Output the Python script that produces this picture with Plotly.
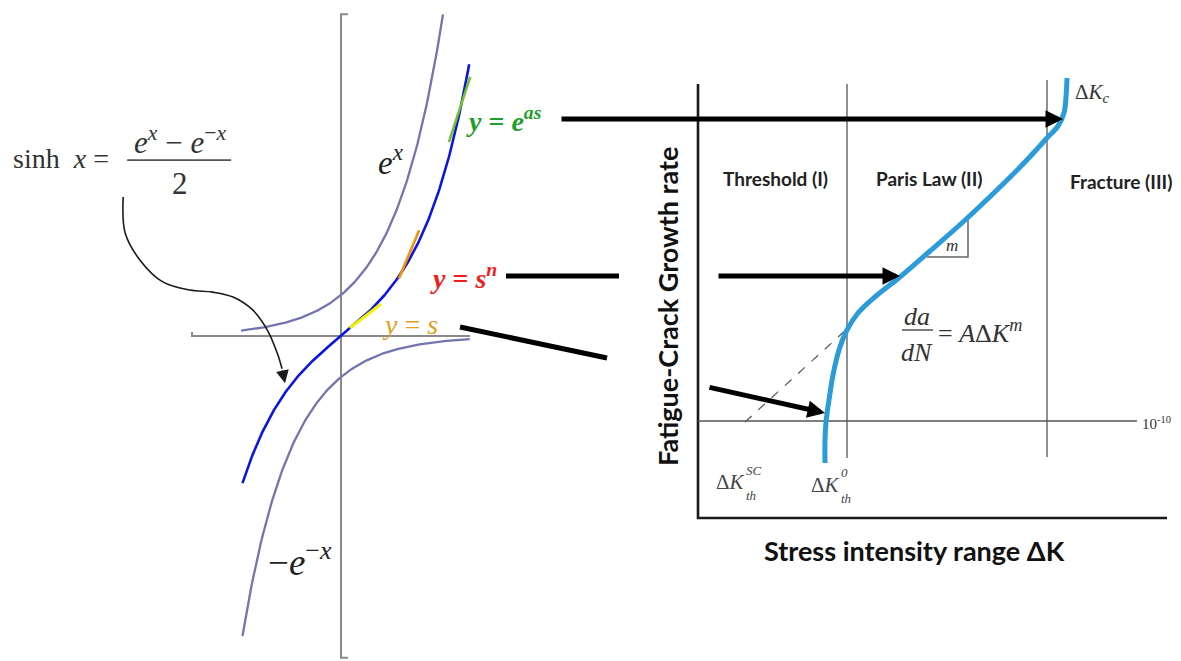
import numpy as np
import plotly.graph_objects as go

# ---------------- Left panel: hyperbolic functions (function units) ----------------
ex_x = np.linspace(-2.02, 2.06, 160)          # e^x
nex_x = np.linspace(-1.99, 2.6, 160)          # -e^-x
sinh_x = np.linspace(-1.99, 2.59, 200)        # sinh x
ex_y = np.exp(ex_x)
nex_y = -np.exp(-nex_x)
sinh_y = np.sinh(sinh_x)

green_x, green_y = [2.18, 2.61], [4.73, 6.32]     # y = e^{as} approximation
orange_x, orange_y = [1.17, 1.58], [1.40, 2.58]   # y = s^n approximation
yellow_x, yellow_y = [0.18, 0.81], [0.195, 0.78]  # y = s approximation

vaxis_x, vaxis_y = [0.14, 0, 0, 0.14], [7.85, 7.85, -7.85, -7.85]
haxis_x, haxis_y = [-3.01, -3.01, 2.61], [0.1, 0, 0]
frac_x, frac_y = [-4.32, -2.22], [4.29, 4.29]

curl_x = [-4.40, -4.36, -4.06, -3.60, -3.05, -2.59, -2.18, -1.78, -1.49, -1.29, -1.19]
curl_y = [3.39, 2.51, 1.85, 1.32, 1.12, 1.07, 0.95, 0.63, 0.15, -0.41, -0.80]
curl_tip = (-1.13, -1.15)

# ---------------- Right panel: fatigue crack growth (log dK, log da/dN) ----------------
axis_lx, axis_ly = [0, 0, 2.345], [-3.26, -11.94, -11.94]
line2_x, line2_y = [0.745, 0.745], [-3.26, -10.74]
line3_x, line3_y = [1.745, 1.745], [-3.18, -10.72]
th_x, th_y = [0, 2.195], [-10, -10]
dash_x, dash_y = [0.235, 0.75], [-10.02, -8.14]
crack_x = [0.635, 0.635, 0.64, 0.655, 0.675, 0.705, 0.745, 0.80, 0.89, 1.01,
           1.16, 1.325, 1.51, 1.635, 1.745, 1.80, 1.83, 1.84, 1.845]
crack_y = [-10.84, -10.38, -10.02, -9.58, -9.08, -8.58, -8.18, -7.84, -7.50, -7.12,
           -6.60, -6.02, -5.32, -4.82, -4.34, -4.10, -3.84, -3.52, -3.14]
tri_x, tri_y = [1.145, 1.35, 1.35], [-6.72, -6.72, -5.94]

fig = go.Figure()

def line(x, y, color, width, xa='x', ya='y', dash=None, shape='linear'):
    fig.add_trace(go.Scatter(x=x, y=y, mode='lines', xaxis=xa, yaxis=ya,
                             line=dict(color=color, width=width, dash=dash, shape=shape),
                             hoverinfo='skip', showlegend=False))

# left panel
line(vaxis_x, vaxis_y, '#8a8a8a', 2)
line(haxis_x, haxis_y, '#8a8a8a', 2)
line(ex_x, ex_y, '#7474b0', 2.3)
line(nex_x, nex_y, '#7474b0', 2.3)
line(sinh_x, sinh_y, '#0a14e6', 2.6)
line(green_x, green_y, '#72c228', 2.6)
line(orange_x, orange_y, '#f29200', 2.6)
line(yellow_x, yellow_y, '#f2f200', 3)
line(frac_x, frac_y, '#555555', 1.8)
line(curl_x, curl_y, '#1a1a1a', 1.6, shape='spline')

# right panel
line(axis_lx, axis_ly, '#1a1a1a', 2.6, 'x2', 'y2')
line(line2_x, line2_y, '#555555', 1.3, 'x2', 'y2')
line(line3_x, line3_y, '#555555', 1.3, 'x2', 'y2')
line(th_x, th_y, '#555555', 1.3, 'x2', 'y2')
line(dash_x, dash_y, '#555555', 1.2, 'x2', 'y2', dash='dash')
line(tri_x, tri_y, '#666666', 1.5, 'x2', 'y2')
line(crack_x, crack_y, '#2b9bd9', 5, 'x2', 'y2', shape='spline')

# connector segments (no heads)
line([-0.96, -0.395], [-7.10, -7.10], '#000000', 5, 'x2', 'y2')
line([-1.19, -0.455], [-8.12, -8.74], '#000000', 5, 'x2', 'y2')

ann = []
def arrow(x, y, ax, ay, w=5, size=0.7):
    ann.append(dict(x=x, y=y, ax=ax, ay=ay, xref='x2', yref='y2', axref='x2', ayref='y2',
                    showarrow=True, arrowhead=2, arrowwidth=w, arrowsize=size,
                    arrowcolor='#000000', text='', standoff=0))

arrow(1.825, -3.96, -0.69, -3.96)
arrow(1.01, -7.10, 0.095, -7.10)
arrow(0.635, -9.84, 0.05, -9.32)

# curl arrow head
ann.append(dict(x=curl_tip[0], y=curl_tip[1], ax=curl_x[-1], ay=curl_y[-1], xref='x', yref='y',
                axref='x', ayref='y', showarrow=True, arrowhead=2, arrowwidth=1.6,
                arrowsize=1.6, arrowcolor='#1a1a1a', text='', standoff=0))

SERIF = 'Liberation Serif'
SANS = 'Lato'

def txt(x, y, s, size, color='#222222', family=SERIF, xa='x', ya='y', anchor='center', angle=0):
    ann.append(dict(x=x, y=y, text=s, xref=xa, yref=ya, showarrow=False, xanchor=anchor,
                    yanchor='middle', textangle=angle,
                    font=dict(size=size, color=color, family=family)))

# left panel labels
txt(-4.64, 4.34, 'sinh&nbsp;&nbsp;<i>x</i> =', 28, '#333333', anchor='right')
txt(-3.25, 4.78, '<i>e</i><sup><i>x</i></sup> − <i>e</i><sup>−<i>x</i></sup>', 31, '#333333')
txt(-3.25, 3.72, '2', 31, '#333333')
txt(1.02, 4.30, '<i>e</i><sup><i>x</i></sup>', 33, '#222222')
txt(-0.83, -5.46, '−<i>e</i><sup>−<i>x</i></sup>', 37, '#222222')
txt(2.48, 5.27, '<b><i>y</i> = <i>e</i><sup><i>as</i></sup></b>', 28, '#1e9e2a', anchor='left')
txt(1.76, 1.44, '<b><i>y</i> = <i>s</i><sup><i>n</i></sup></b>', 28, '#f01e1e', anchor='left')
txt(0.78, 0.27, '<i>y</i> = <i>s</i>', 28, '#e0a020', anchor='left')

# right panel labels
txt(0.385, -5.14, '<b>Threshold (I)</b>', 19, '#222222', SANS, 'x2', 'y2')
txt(1.155, -5.14, '<b>Paris Law (II)</b>', 19, '#222222', SANS, 'x2', 'y2')
txt(2.115, -5.20, '<b>Fracture (III)</b>', 19, '#222222', SANS, 'x2', 'y2')
txt(-0.155, -7.72, '<b>Fatigue-Crack Growth rate</b>', 27, '#111111', SANS, 'x2', 'y2', angle=-90)
txt(1.08, -12.58, '<b>Stress intensity range ΔK</b>', 27, '#111111', SANS, 'x2', 'y2')
txt(1.27, -6.48, '<i>m</i>', 17, '#333333', SERIF, 'x2', 'y2')
txt(1.095, -7.90, '<i>da</i>', 26, '#333333', SERIF, 'x2', 'y2')
txt(1.095, -8.62, '<i>dN</i>', 26, '#333333', SERIF, 'x2', 'y2')
line([1.02, 1.175], [-8.18, -8.18], '#444444', 1.4, 'x2', 'y2')
txt(1.19, -8.20, '= <i>A</i>Δ<i>K</i><sup><i>m</i></sup>', 26, '#333333', SERIF, 'x2', 'y2', anchor='left')
txt(1.875, -3.44, 'Δ<i>K</i><sub><i>c</i></sub>', 21, '#333333', SERIF, 'x2', 'y2', anchor='left')
txt(2.21, -10.04, '10<sup>-10</sup>', 15, '#333333', SERIF, 'x2', 'y2', anchor='left')
# dK_th^SC
txt(0.08, -11.22, 'Δ<i>K</i>', 21, '#444444', SERIF, 'x2', 'y2', anchor='left')
txt(0.228, -10.98, '<i>SC</i>', 13, '#444444', SERIF, 'x2', 'y2', anchor='left')
txt(0.232, -11.48, '<i>th</i>', 13, '#444444', SERIF, 'x2', 'y2', anchor='left')
# dK_th^0
txt(0.555, -11.28, 'Δ<i>K</i>', 21, '#444444', SERIF, 'x2', 'y2', anchor='left')
txt(0.705, -11.02, '<i>0</i>', 13, '#444444', SERIF, 'x2', 'y2', anchor='left')
txt(0.705, -11.54, '<i>th</i>', 13, '#444444', SERIF, 'x2', 'y2', anchor='left')

# the page body has an 8px margin: figure is 8px smaller and ranges are shifted to match
fig.update_layout(
    width=1173, height=653, margin=dict(l=0, r=0, t=0, b=0),
    paper_bgcolor='white', plot_bgcolor='white', annotations=ann,
    xaxis=dict(domain=[0, 1], range=[-6.727, 16.97], visible=False, fixedrange=True),
    yaxis=dict(domain=[0, 1], range=[-7.927, 8.0], visible=False, fixedrange=True),
    xaxis2=dict(domain=[0, 1], range=[-3.45, 2.415], visible=False, overlaying='x', anchor='y2'),
    yaxis2=dict(domain=[0, 1], range=[-14.8, -1.74], visible=False, overlaying='y', anchor='x2'),
)

fig.write_html('out.html')
